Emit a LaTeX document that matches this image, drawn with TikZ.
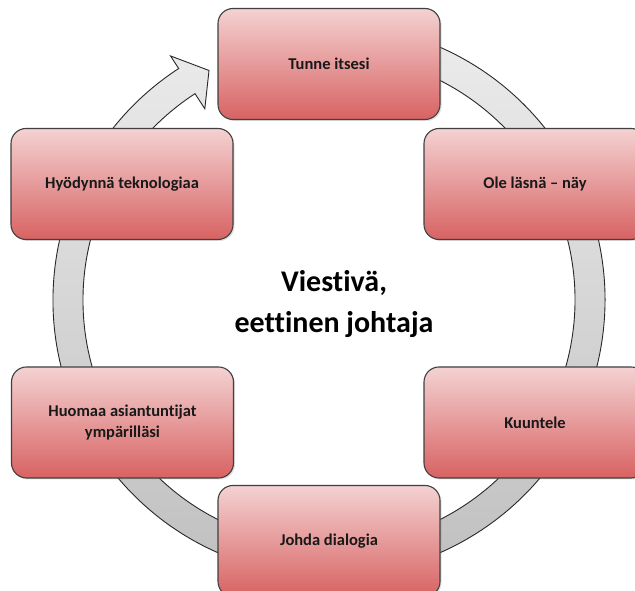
\documentclass[tikz,border=0pt]{standalone}
\usepackage{fontspec}
\setmainfont{Carlito}[Ligatures=NoCommon]
\usetikzlibrary{shadows}
\definecolor{boxtop}{RGB}{244,210,210}
\definecolor{boxbot}{RGB}{216,98,98}
\definecolor{boxline}{RGB}{64,64,64}
\definecolor{ringtop}{RGB}{236,236,236}
\definecolor{ringbot}{RGB}{190,190,190}
\definecolor{ringline}{RGB}{40,40,40}
\definecolor{txt}{RGB}{25,25,25}
\tikzset{
  stepbox/.style={draw=boxline, line width=1.1bp, rounded corners=15bp,
    top color=boxtop, bottom color=boxbot,
    minimum width=222bp, minimum height=111bp, inner sep=0pt,
    align=center, text=txt,
    font=\fontsize{16.5bp}{20.5bp}\selectfont\bfseries,
    drop shadow={opacity=0.25, shadow xshift=1.5bp, shadow yshift=-1.5bp}},
  ringstyle/.style={draw=ringline, line width=0.9bp, top color=ringtop, bottom color=ringbot},
  centertext/.style={align=center, font=\fontsize{30bp}{41bp}\selectfont\bfseries, text=black}
}
\begin{document}
\begin{tikzpicture}[x=1bp,y=1bp]
\useasboundingbox (0,0) rectangle (635,591);
\clip (0,0) rectangle (635,591);
\fill[white] (0,0) rectangle (635,591);
\begin{scope}[shift={(329,291)}]
  \path[ringstyle] (80:276) arc[start angle=80, end angle=-237, radius=276]
    -- (-237:291) -- (-242.4:259) -- (-237:228) -- (-237:246)
    arc[start angle=-237, end angle=80, radius=246] -- cycle;
\end{scope}
\node[stepbox] (tunne) at (329,527) {Tunne itsesi};
\node[stepbox] (ole) at (535,407) {Ole läsnä – näy};
\node[stepbox] (kuuntele) at (535,168.5) {Kuuntele};
\node[stepbox] (johda) at (329,50) {Johda dialogia};
\node[stepbox] (huomaa) at (122.5,168.5) {Huomaa asiantuntijat\\ympärilläsi};
\node[stepbox] (hyodynna) at (122,407) {Hyödynnä teknologiaa};
\node[centertext] (center) at (334,287) {Viestivä,\\eettinen johtaja};
\end{tikzpicture}
\end{document}
